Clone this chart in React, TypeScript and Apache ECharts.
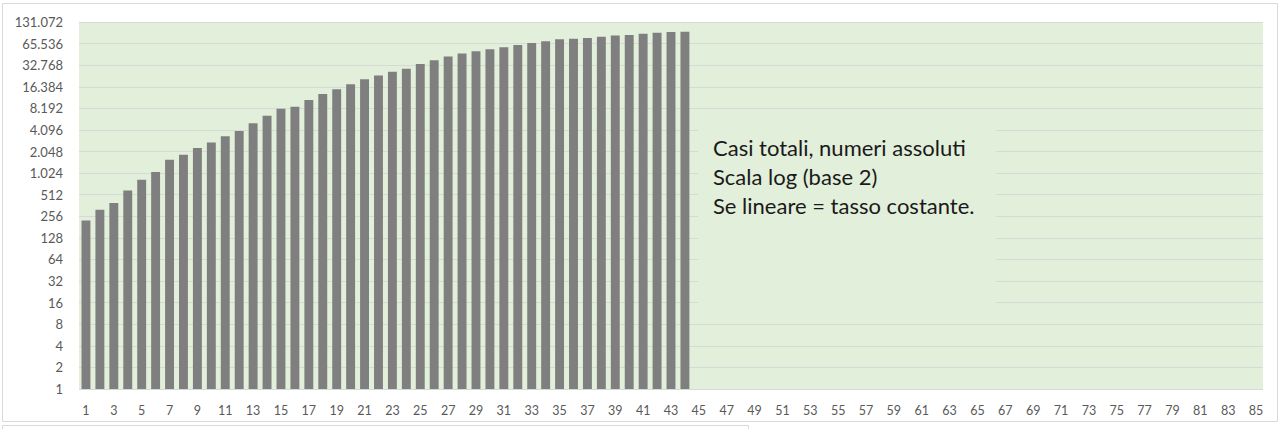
import React, { useEffect, useRef } from "react";
import * as echarts from "echarts";

const categories: string[] = Array.from({ length: 85 }, (_, i) => String(i + 1));

const totalCases: number[] = [
  224, 315, 391, 585, 826, 1058, 1570, 1844, 2285, 2733,
  3357, 3975, 5090, 6440, 8060, 8600, 10750, 12940, 15170, 17800,
  20900, 23500, 26440, 29100, 33900, 38500, 43200, 47600, 51400, 54700,
  58300, 62800, 66900, 70700, 75300, 76300, 78500, 81900, 84700, 86600,
  89600, 92700, 94800, 95500,
];

const noteLines: string[] = [
  "Casi totali, numeri assoluti",
  "Scala log (base 2)",
  "Se lineare = tasso costante.",
];

const fmt = (v: number) =>
  String(Math.round(v)).replace(/\B(?=(\d{3})+(?!\d))/g, ".");

export default function App() {
  const ref = useRef<HTMLDivElement>(null);
  useEffect(() => {
    if (!ref.current) return;
    const chart = echarts.init(ref.current, undefined, { renderer: "svg" });
    chart.setOption({
      animation: false,
      backgroundColor: "#ffffff",
      textStyle: { fontFamily: "Lato" },
      grid: {
        left: 79,
        right: 18,
        top: 22,
        bottom: 40,
        show: true,
        backgroundColor: "#e2efda",
        borderWidth: 0,
      },
      xAxis: {
        type: "category",
        data: categories,
        axisTick: { show: false },
        axisLine: { show: false },
        axisLabel: {
          interval: 1,
          color: "#595959",
          fontSize: 12.5,
          fontFamily: "Lato",
          margin: 15,
        },
        splitLine: { show: false },
      },
      yAxis: {
        type: "log",
        logBase: 2,
        min: 1,
        max: 131072,
        interval: 1,
        axisLine: { show: false },
        axisTick: { show: false },
        axisLabel: {
          color: "#595959",
          fontSize: 13,
          fontFamily: "Lato",
          margin: 16,
          formatter: (v: number) => fmt(v),
        },
        splitLine: { lineStyle: { color: "#d6d9d4", width: 1.2 } },
      },
      series: [
        {
          type: "bar",
          data: totalCases,
          barCategoryGap: "36%",
          itemStyle: { color: "#7f7f7f" },
        },
      ],
      graphic: [
        {
          type: "rect",
          z: 100,
          shape: { x: 698, y: 116, width: 298, height: 196 },
          style: { fill: "#e2efda" },
        },
        ...noteLines.map((t, i) => ({
          type: "text",
          z: 101,
          x: 713,
          y: 147 + i * 29,
          style: {
            text: t,
            fill: "#1a1a1a",
            fontSize: 22,
            fontFamily: "Lato",
            verticalAlign: "middle",
            align: "left",
          },
        })),
        {
          type: "rect",
          z: 90,
          shape: { x: 2.5, y: 3.5, width: 1275, height: 418 },
          style: { fill: "none", stroke: "#d9d9d9", lineWidth: 1 },
        },
        {
          type: "polyline",
          z: 90,
          shape: { points: [[2.5, 429], [2.5, 425.5], [748.5, 425.5], [748.5, 429]] },
          style: { fill: "none", stroke: "#d9d9d9", lineWidth: 1 },
        },
      ],
    });
    return () => chart.dispose();
  }, []);
  return (
    <div
      ref={ref}
      style={{ position: "absolute", left: 0, top: 0, width: 1281, height: 429 }}
    />
  );
}
